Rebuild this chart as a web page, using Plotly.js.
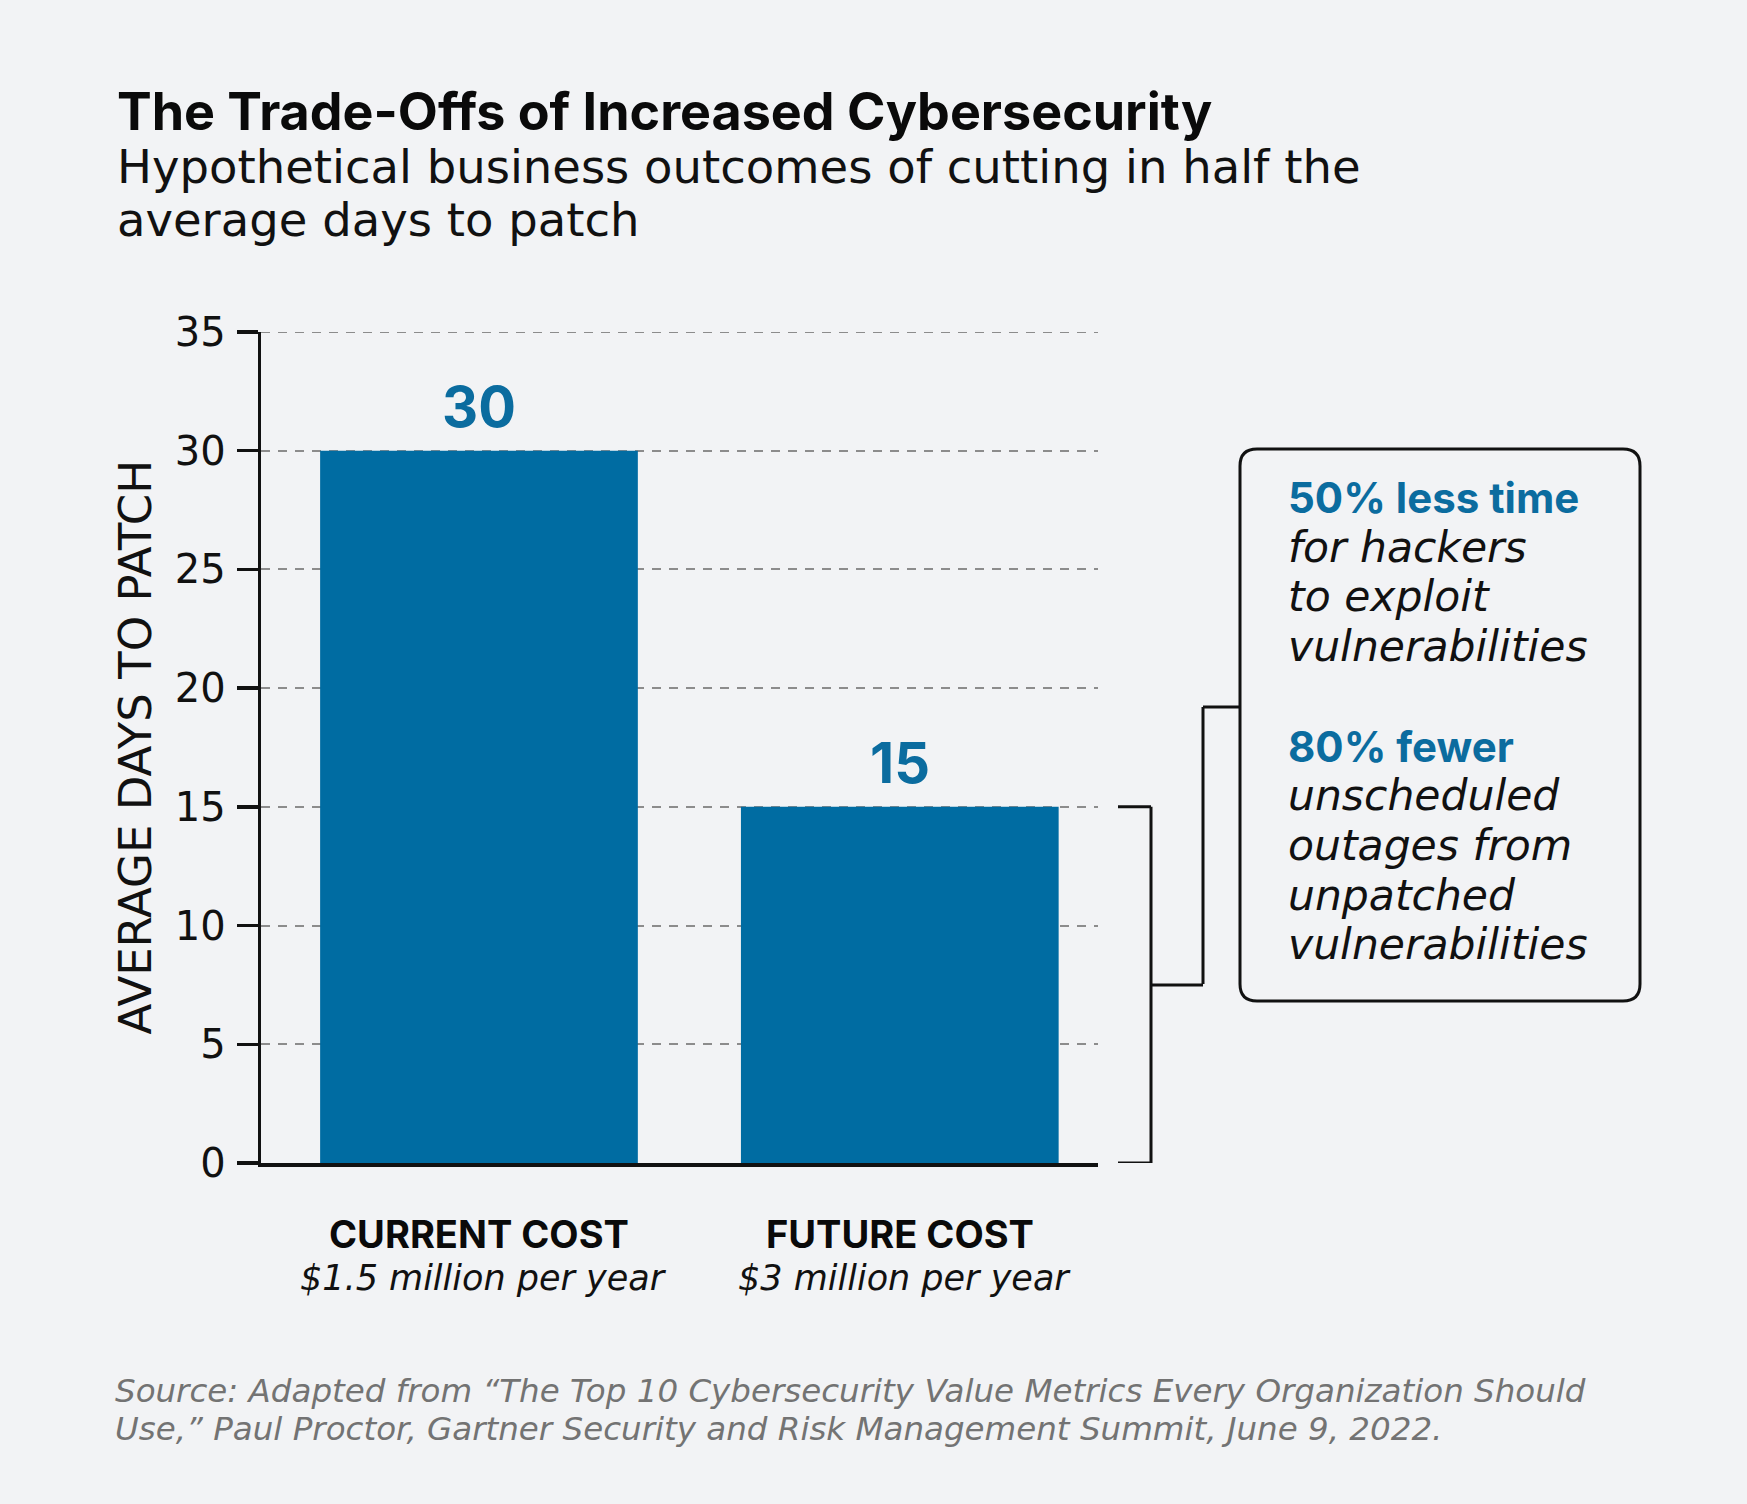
<!DOCTYPE html>
<html>
<head>
<meta charset="utf-8">
<script src="https://cdn.plot.ly/plotly-3.0.1.min.js"></script>
<style>
  html, body { margin: 0; padding: 0; background: #f2f3f5; }
  #chart { width: 1747px; height: 1504px; }
</style>
</head>
<body>
<div id="chart"></div>
<script>
// Chart values
const categories = ['CURRENT COST', 'FUTURE COST'];
const costs = ['$1.5 million per year', '$3 million per year'];
const days = [30, 15];
const yTicks = [0, 5, 10, 15, 20, 25, 30, 35];

// Callout text
const benefitHeads = ['50% less time', '80% fewer'];
const benefitLines = [
    ['for hackers', 'to exploit', 'vulnerabilities'],
    ['unscheduled', 'outages from', 'unpatched', 'vulnerabilities']
];

const titleText = 'The Trade-Offs of Increased Cybersecurity';
const subtitleLines = ['Hypothetical business outcomes of cutting in half the', 'average days to patch'];
const sourceLines = [
    'Source: Adapted from \u201cThe Top 10 Cybersecurity Value Metrics Every Organization Should',
    'Use,\u201d Paul Proctor, Gartner Security and Risk Management Summit, June 9, 2022.'
];

// Page geometry
const W = 1747, H = 1504;
const ML = 261, MR = 649, MT = 332, MB = 341;
const PW = W - ML - MR, PH = H - MT - MB;

// page pixels -> paper fraction
function px(x) { return (x - ML) / PW; }
function py(y) { return (H - MB - y) / PH; }

const BOLD = 'Inter, "Noto Sans", sans-serif';
const REG = '"DejaVu Sans", "Noto Sans", sans-serif';
const BLUE = '#0b6c9f';
const BAR = '#006ca2';
const GRID = '#8c8c8c';

// text placed by its left edge and baseline in page pixels
function textAt(x, baseline, text, font, xanchor) {
    return {
        xref: 'paper', yref: 'paper',
        x: px(x), y: py(baseline - 0.34 * font.size),
        xanchor: xanchor || 'left', yanchor: 'middle',
        text: text, showarrow: false, font: font
    };
}

const annotations = [];

annotations.push(textAt(115, 129, '<b>' + titleText + '</b>', { family: BOLD, size: 52, color: '#0a0a0a' }));
subtitleLines.forEach((line, i) => {
    annotations.push(textAt(115, 183 + i * 53, line, { family: REG, size: 46.5, color: '#111' }));
});

// value labels on bars
categories.forEach((c, i) => {
    annotations.push({
        x: c, y: days[i], xref: 'x', yref: 'y',
        yanchor: 'bottom', yshift: 8,
        text: '<b>' + days[i] + '</b>', showarrow: false,
        font: { family: BOLD, size: 56, color: BLUE }
    });
    // category labels below axis
    annotations.push({
        x: c, y: py(1247 - 0.34 * 38), xref: 'x', yref: 'paper', yanchor: 'middle',
        text: '<b>' + c + '</b>', showarrow: false,
        font: { family: BOLD, size: 38, color: '#0a0a0a' }
    });
    annotations.push({
        x: c, y: py(1290 - 0.34 * 35), xref: 'x', yref: 'paper', yanchor: 'middle',
        xshift: 5,
        text: '<i>' + costs[i] + '</i>', showarrow: false,
        font: { family: REG, size: 35, color: '#111' }
    });
});

// y axis title
annotations.push({
    xref: 'paper', yref: 'paper', x: px(135), y: 0.5,
    xanchor: 'center', yanchor: 'middle', textangle: -90,
    text: 'AVERAGE DAYS TO PATCH', showarrow: false,
    font: { family: REG, size: 45, color: '#111' }
});

// callout text
let row = 0;
benefitHeads.forEach((head, k) => {
    annotations.push(textAt(1286, 512 + row * 49.7, '<b>' + head + '</b>', { family: BOLD, size: 42, color: BLUE }));
    row++;
    benefitLines[k].forEach(line => {
        annotations.push(textAt(1286, 512 + row * 49.7, '<i>' + line + '</i>', { family: REG, size: 42.5, color: '#111' }));
        row++;
    });
    row++;
});

sourceLines.forEach((line, i) => {
    annotations.push(textAt(113, 1402 + i * 38, '<i>' + line + '</i>', { family: REG, size: 32.5, color: '#737373' }));
});

// bracket and connector
const lineStyle = { color: '#111', width: 3 };
const bx0 = px(1118), bx1 = px(1151), cx = px(1203);
const boxL = px(1240), boxR = px(1640), boxT = py(449), boxB = py(1001);
const joinY = py(707);
const topTick = yTicks[yTicks.length - 1];
const shapes = [
    // top gridline (plotly drops the one at the range edge)
    { type: 'line', xref: 'paper', yref: 'y', x0: 0, x1: 1, y0: topTick, y1: topTick,
      line: { color: GRID, width: 2, dash: '9px,8px' }, layer: 'below' },
    { type: 'line', xref: 'paper', yref: 'y', x0: bx0, x1: bx1, y0: days[1], y1: days[1], line: lineStyle },
    { type: 'line', xref: 'paper', yref: 'y', x0: bx0, x1: bx1, y0: 0, y1: 0, line: lineStyle },
    { type: 'line', xref: 'paper', yref: 'y', x0: bx1, x1: bx1, y0: 0, y1: days[1], line: lineStyle },
    { type: 'line', xref: 'paper', yref: 'y', x0: bx1, x1: cx, y0: days[1] / 2, y1: days[1] / 2, line: lineStyle },
    { type: 'line', xref: 'paper', yref: 'paper', x0: cx, x1: cx, y0: py(984), y1: joinY, line: lineStyle },
    { type: 'line', xref: 'paper', yref: 'paper', x0: cx, x1: boxL, y0: joinY, y1: joinY, line: lineStyle }
];

// rounded callout box
const rx = 17 / PW, ry = 17 / PH;
const boxPath =
    'M' + (boxL + rx) + ',' + boxT +
    ' L' + (boxR - rx) + ',' + boxT +
    ' Q' + boxR + ',' + boxT + ' ' + boxR + ',' + (boxT - ry) +
    ' L' + boxR + ',' + (boxB + ry) +
    ' Q' + boxR + ',' + boxB + ' ' + (boxR - rx) + ',' + boxB +
    ' L' + (boxL + rx) + ',' + boxB +
    ' Q' + boxL + ',' + boxB + ' ' + boxL + ',' + (boxB + ry) +
    ' L' + boxL + ',' + (boxT - ry) +
    ' Q' + boxL + ',' + boxT + ' ' + (boxL + rx) + ',' + boxT + ' Z';
shapes.push({ type: 'path', xref: 'paper', yref: 'paper', path: boxPath, line: lineStyle, fillcolor: 'rgba(0,0,0,0)' });

const data = [{
    type: 'bar',
    x: categories,
    y: days,
    width: 0.755,
    marker: { color: BAR, line: { width: 0 } },
    hoverinfo: 'none'
}];

const layout = {
    width: W, height: H,
    paper_bgcolor: '#f2f3f5',
    plot_bgcolor: '#f2f3f5',
    showlegend: false,
    margin: { l: ML, r: MR, t: MT, b: MB, pad: 0 },
    xaxis: {
        type: 'category',
        range: [-0.518, 1.471],
        showline: true, linecolor: '#111', linewidth: 3.5,
        showgrid: false, zeroline: false,
        ticks: '', showticklabels: false, fixedrange: true
    },
    yaxis: {
        range: [0, 35],
        tickvals: yTicks,
        ticks: 'outside', ticklen: 21, tickwidth: 3.3, tickcolor: '#111',
        ticklabelstandoff: 3,
        tickfont: { family: REG, size: 40, color: '#111' },
        showline: true, linecolor: '#111', linewidth: 3.3,
        showgrid: true, gridcolor: GRID, gridwidth: 2, griddash: '9px,8px',
        zeroline: false, fixedrange: true
    },
    annotations: annotations,
    shapes: shapes
};

Plotly.newPlot('chart', data, layout, { staticPlot: true, displayModeBar: false });
</script>
</body>
</html>
